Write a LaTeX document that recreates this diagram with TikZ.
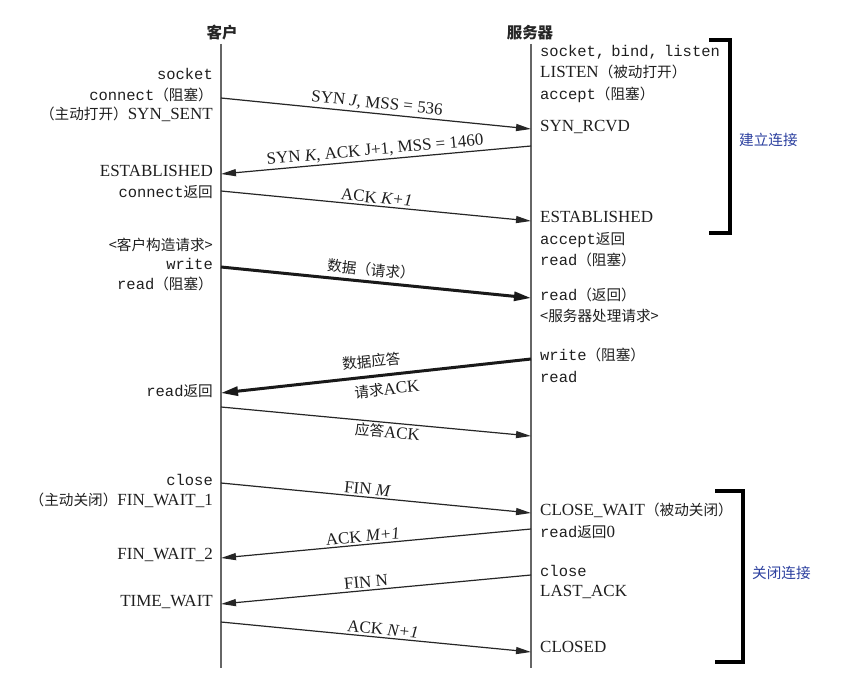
\documentclass[tikz,border=0pt]{standalone}
\usepackage{fontspec}
\setmainfont{Liberation Serif}
\setmonofont{Liberation Mono}[Scale=0.91]
\newfontfamily\cjk{Noto Sans CJK SC}[Scale=0.86]
\usetikzlibrary{arrows.meta, positioning, calc}
\newcommand{\zh}[1]{{\cjk #1}}
\newcommand{\cd}[1]{{\ttfamily #1}}

\begin{document}
\begin{tikzpicture}[
    x=1pt, y=-1pt,
    font=\fontsize{17}{20}\selectfont,
    lifeline/.style={draw=black!60, line width=1.4pt},
    who/.style={font=\fontsize{18}{20}\selectfont\cjk\bfseries, text=black!85, inner sep=1pt},
    lstate/.style={anchor=mid east, text=black!88, inner sep=0pt},
    rstate/.style={anchor=mid west, text=black!88, inner sep=0pt},
    msg/.style={-{Triangle[length=15pt,width=7pt]}, line width=1.2pt, draw=black!85},
    data/.style={-{Triangle[length=17pt,width=9pt]}, line width=3pt, draw=black!90},
    mlabel/.style={sloped, text=black!88, inner sep=2pt},
    brk/.style={line width=4pt, draw=black},
    grp/.style={font=\fontsize{17}{20}\selectfont\cjk, text=grpblue, anchor=west, inner sep=0pt},
]

\definecolor{grpblue}{RGB}{45,65,160}

\useasboundingbox[fill=white] (0,0) rectangle (859,690);

% ============================================================
% Lifelines
% ============================================================

\node[who] (cli) at (222,33) {客户};
\node[who] (srv) at (530,33) {服务器};

\coordinate (cli-top) at (221,44);
\coordinate (cli-bot) at (221,668);
\coordinate (srv-top) at (531,44);
\coordinate (srv-bot) at (531,668);

\draw[lifeline] (cli-top) -- (cli-bot);
\draw[lifeline] (srv-top) -- (srv-bot);

% message ends on both lines
\foreach \n/\y in {syn/98, synack/174, ack/191, req/267, resp/393,
                   rack/407, fin/483, finack/558, fin2/604, last/622}
    \coordinate (c-\n) at (221,\y);
\foreach \n/\y in {syn/129, synack/146, ack/221, req/298, resp/359,
                   rack/436, fin/513, finack/529, fin2/575, last/652}
    \coordinate (s-\n) at (531,\y);

% ============================================================
% Client states
% ============================================================

\node[lstate] (l-sock)  at (213,77)  {\cd{socket}};
\node[lstate] (l-conn)  at (213,98)  {\cd{connect}\zh{（阻塞）}};
\node[lstate] (l-sent)  at (213,117) {\zh{（主动打开）}SYN\_SENT};
\node[lstate] (l-est)   at (213,174) {ESTABLISHED};
\node[lstate] (l-cret)  at (213,195) {\cd{connect}\zh{返回}};
\node[lstate] (l-build) at (213,248) {\zh{<客户构造请求>}};
\node[lstate] (l-write) at (213,267) {\cd{write}};
\node[lstate] (l-read)  at (213,287) {\cd{read}\zh{（阻塞）}};
\node[lstate] (l-rret)  at (213,394) {\cd{read}\zh{返回}};
\node[lstate] (l-close) at (213,483) {\cd{close}};
\node[lstate] (l-fw1)   at (213,503) {\zh{（主动关闭）}FIN\_WAIT\_1};
\node[lstate] (l-fw2)   at (213,557) {FIN\_WAIT\_2};
\node[lstate] (l-tw)    at (213,604) {TIME\_WAIT};

% ============================================================
% Server states
% ============================================================

\node[rstate] (r-sock)   at (540,54)  {\cd{socket,\kern-3pt\ bind,\kern-3pt\ listen}};
\node[rstate] (r-listen) at (540,75)  {LISTEN\zh{（被动打开）}};
\node[rstate] (r-acc)    at (540,97)  {\cd{accept}\zh{（阻塞）}};
\node[rstate] (r-rcvd)   at (540,129) {SYN\_RCVD};
\node[rstate] (r-est)    at (540,220) {ESTABLISHED};
\node[rstate] (r-aret)   at (540,242) {\cd{accept}\zh{返回}};
\node[rstate] (r-read)   at (540,263) {\cd{read}\zh{（阻塞）}};
\node[rstate] (r-rret)   at (540,298) {\cd{read}\zh{（返回）}};
\node[rstate] (r-proc)   at (540,319) {\zh{<服务器处理请求>}};
\node[rstate] (r-write)  at (540,358) {\cd{write}\zh{（阻塞）}};
\node[rstate] (r-read2)  at (540,380) {\cd{read}};
\node[rstate] (r-cw)     at (540,513) {CLOSE\_WAIT\zh{（被动关闭）}};
\node[rstate] (r-r0)     at (540,535) {\cd{read}\zh{返回}0};
\node[rstate] (r-close)  at (540,574) {\cd{close}};
\node[rstate] (r-last)   at (540,594) {LAST\_ACK};
\node[rstate] (r-closed) at (540,650) {CLOSED};

% ============================================================
% Messages
% ============================================================

\draw[msg] (c-syn) -- node[mlabel, pos=0.5, above] {SYN \textit{J}, MSS = 536} (s-syn);
\draw[msg] (s-synack) -- node[mlabel, pos=0.5, above] {SYN \textit{K}, ACK J+1, MSS = 1460} (c-synack);
\draw[msg] (c-ack) -- node[mlabel, pos=0.5, above] {ACK \textit{K+1}} (s-ack);

\draw[data] (c-req) -- node[mlabel, pos=0.48, above=2pt] {\zh{数据（请求）}} (s-req);
\draw[data] (s-resp)
    -- node[mlabel, pos=0.51, above=5pt] {\zh{数据应答}}
       node[mlabel, pos=0.47, below=4pt] {\zh{请求}ACK} (c-resp);
\draw[msg] (c-rack) -- node[mlabel, pos=0.54, below] {\zh{应答}ACK} (s-rack);

\draw[msg] (c-fin) -- node[mlabel, pos=0.47, above] {FIN \textit{M}} (s-fin);
\draw[msg] (s-finack) -- node[mlabel, pos=0.54, above] {ACK \textit{M+1}} (c-finack);
\draw[msg] (s-fin2) -- node[mlabel, pos=0.53, above] {FIN N} (c-fin2);
\draw[msg] (c-last) -- node[mlabel, pos=0.52, above] {ACK \textit{N+1}} (s-last);

% ============================================================
% Phase brackets
% ============================================================

\coordinate (est-top) at (709,40);
\coordinate (est-bot) at (730,233);
\draw[brk] (est-top) -| (est-bot) -- ++(-21,0);
\node[grp] (est-lbl) at (739,140) {建立连接};

\coordinate (cls-top) at (715,491);
\coordinate (cls-bot) at (743,662);
\draw[brk] (cls-top) -| (cls-bot) -- ++(-28,0);
\node[grp] (cls-lbl) at (752,573) {关闭连接};

\end{tikzpicture}
\end{document}
